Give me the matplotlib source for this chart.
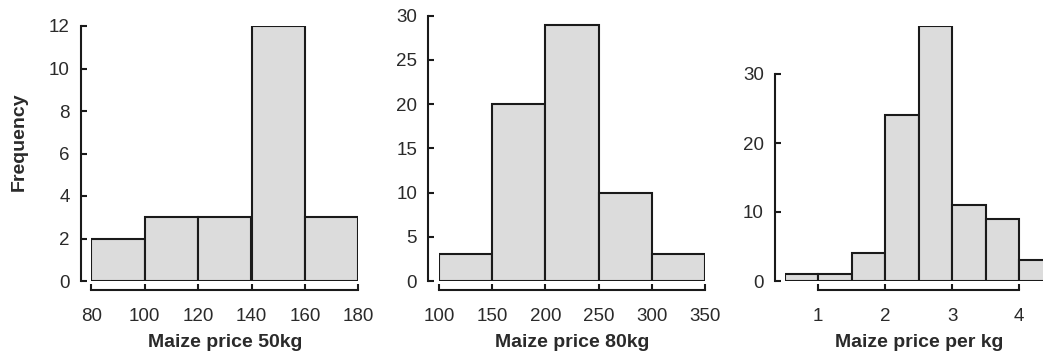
import numpy as np
import matplotlib.pyplot as plt

plt.rcParams['font.family'] = ['Liberation Sans', 'DejaVu Sans']

# panel 1: maize price per 50kg
edges1 = [80, 100, 120, 140, 160, 180]
counts1 = [2, 3, 3, 12, 3]
yticks1 = [0, 2, 4, 6, 8, 10, 12]

# panel 2: maize price per 80kg
edges2 = [100, 150, 200, 250, 300, 350]
counts2 = [3, 20, 29, 10, 3]
yticks2 = [0, 5, 10, 15, 20, 25, 30]

# panel 3: maize price per kg
edges3 = [0.5, 1.0, 1.5, 2.0, 2.5, 3.0, 3.5, 4.0, 4.5]
counts3 = [1, 1, 4, 24, 37, 11, 9, 3]
yticks3 = [0, 10, 20, 30]
xticks3 = [1, 2, 3, 4]

xlabels = ['Maize price 50kg', 'Maize price 80kg', 'Maize price per kg']

W, H = 1043, 352
fig = plt.figure(figsize=(W / 100, H / 100), dpi=100)

def px_axes(x0, x1, ytop, ybot):
    return fig.add_axes([x0 / W, (H - ybot) / H, (x1 - x0) / W, (ybot - ytop) / H])

lw = 1.5
fill = '#dcdcdc'
ink = '#1a1a1a'
txt = '#2a2a2a'

def r_hist(ax, edges, counts, xticks, yticks, xlim, ylim, xlab, yoff, xoff=6.2):
    edges = np.array(edges)
    ax.bar(edges[:-1], counts, width=np.diff(edges), align='edge',
           color=fill, edgecolor=ink, linewidth=lw)
    ax.set_xlim(*xlim)
    ax.set_ylim(*ylim)
    ax.set_xticks(xticks)
    ax.set_yticks(yticks)
    for s in ['top', 'right']:
        ax.spines[s].set_visible(False)
    ax.spines['left'].set_position(('outward', yoff))
    ax.spines['bottom'].set_position(('outward', xoff))
    ax.spines['left'].set_bounds(yticks[0], yticks[-1])
    ax.spines['bottom'].set_bounds(xticks[0], xticks[-1])
    for s in ['left', 'bottom']:
        ax.spines[s].set_linewidth(lw)
        ax.spines[s].set_color(ink)
    ax.tick_params(direction='in', length=4.5, width=lw, color=ink,
                   labelsize=13.5, labelcolor=txt)
    ax.tick_params(axis='y', pad=8)
    ax.tick_params(axis='x', pad=13)
    ax.set_xlabel(xlab, fontsize=14, fontweight='bold', labelpad=7, color=txt)
    ax.patch.set_visible(False)

ax1 = px_axes(91.3, 358.3, 26, 281)
r_hist(ax1, edges1, counts1, edges1, yticks1, (80, 180), (0, 12), xlabels[0], 7.6)
ax1.set_ylabel('Frequency', fontsize=14, fontweight='bold', labelpad=15, color=txt)
ax1.yaxis.label.set_y(0.547)

ax2 = px_axes(439, 705, 15.7, 281)
r_hist(ax2, edges2, counts2, edges2, yticks2, (100, 350), (0, 30), xlabels[1], 7.7)

ax3 = px_axes(784.8, 1052.8, 25.7, 281)
r_hist(ax3, edges3, counts3, xticks3, yticks3, (0.5, 4.5), (0, 37), xlabels[2], 7.1)

fig.savefig('out.png', dpi=100)
